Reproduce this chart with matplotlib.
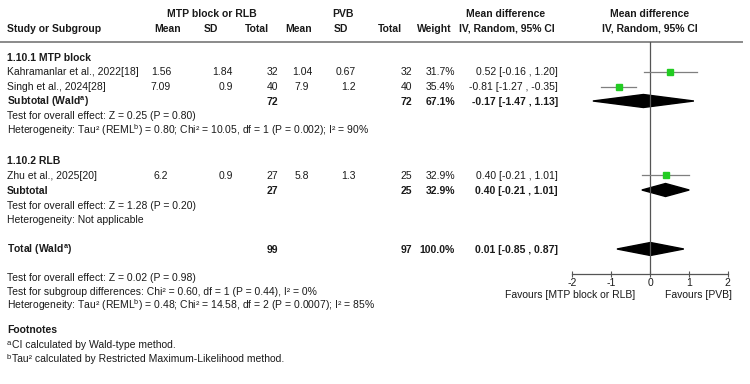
import matplotlib
matplotlib.use("Agg")
import matplotlib.pyplot as plt
from matplotlib.patches import Polygon

plt.rcParams['font.family'] = ['Liberation Sans', 'DejaVu Sans']
plt.rcParams['mathtext.fontset'] = 'custom'
plt.rcParams['mathtext.rm'] = 'Liberation Sans'
plt.rcParams['mathtext.it'] = 'Liberation Sans:italic'
plt.rcParams['mathtext.bf'] = 'Liberation Sans:bold'

SUP_A = r'$^{\mathregular{a}}$'
SUP_B = r'$^{\mathregular{b}}$'

# studies
studies = ['Kahramanlar et al., 2022[18]', 'Singh et al., 2024[28]', 'Zhu et al., 2025[20]']
mean_exp = [1.56, 7.09, 6.2]
sd_exp = [1.84, 0.9, 0.9]
n_exp = [32, 40, 27]
mean_ctl = [1.04, 7.9, 5.8]
sd_ctl = [0.67, 1.2, 1.3]
n_ctl = [32, 40, 25]
weights = [31.7, 35.4, 32.9]
md = [0.52, -0.81, 0.40]
md_lo = [-0.16, -1.27, -0.21]
md_hi = [1.20, -0.35, 1.01]

# subtotals and total
pooled_labels = ['Subtotal (Wald' + SUP_A + ')', 'Subtotal', 'Total (Wald' + SUP_A + ')']
pooled_n_exp = [72, 27, 99]
pooled_n_ctl = [72, 25, 97]
pooled_weight = [67.1, 32.9, 100.0]
pooled_md = [-0.17, 0.40, 0.01]
pooled_lo = [-1.47, -0.21, -0.85]
pooled_hi = [1.13, 1.01, 0.87]

xticks = [-2, -1, 0, 1, 2]

# layout (pixel rows, centre of each row)
study_y = [71.5, 86.5, 175]
pooled_y = [101, 190, 249]
FS = 7.5
TXT = '#1a1a1a'
BASE = 3.7  # centre -> baseline offset in px

fig = plt.figure(figsize=(7.5, 3.84), dpi=100)
t = fig.add_axes([0, 0, 1, 1])
t.set_xlim(0, 750)
t.set_ylim(384, 0)
t.axis('off')


def txt(x, y, s, ha='left', bold=False, size=FS):
    t.text(x, y + BASE, s, ha=ha, va='baseline', fontsize=size, color=TXT,
           fontweight='bold' if bold else 'normal')


# header
txt(212, 13, 'MTP block or RLB', 'center', True)
txt(343, 13, 'PVB', 'center', True)
txt(506, 13, 'Mean difference', 'center', True)
txt(650, 13, 'Mean difference', 'center', True)
txt(7, 28, 'Study or Subgroup', bold=True)
txt(168, 28, 'Mean', 'center', True)
txt(211, 28, 'SD', 'center', True)
txt(257, 28, 'Total', 'center', True)
txt(299, 28, 'Mean', 'center', True)
txt(341, 28, 'SD', 'center', True)
txt(390, 28, 'Total', 'center', True)
txt(434, 28, 'Weight', 'center', True)
txt(507, 28, 'IV, Random, 95% CI', 'center', True)
txt(650, 28, 'IV, Random, 95% CI', 'center', True)
t.plot([0, 742], [41.5, 41.5], color='#8a8a8a', lw=1.4)

txt(7, 57, '1.10.1 MTP block', bold=True)
txt(7, 160, '1.10.2 RLB', bold=True)


def ci_text(m, lo, hi):
    return f'{m:.2f} [{lo:.2f} , {hi:.2f}]'


for i, y in enumerate(study_y):
    txt(7, y, studies[i])
    txt(161, y, str(mean_exp[i]), 'center')
    txt(233, y, str(sd_exp[i]), 'right')
    txt(278, y, str(n_exp[i]), 'right')
    txt(302, y, str(mean_ctl[i]), 'center')
    txt(356, y, str(sd_ctl[i]), 'right')
    txt(412, y, str(n_ctl[i]), 'right')
    txt(455, y, f'{weights[i]:.1f}%', 'right')
    txt(558, y, ci_text(md[i], md_lo[i], md_hi[i]), 'right')

for i, y in enumerate(pooled_y):
    txt(7, y, pooled_labels[i], bold=True)
    txt(278, y, str(pooled_n_exp[i]), 'right', True)
    txt(412, y, str(pooled_n_ctl[i]), 'right', True)
    txt(455, y, f'{pooled_weight[i]:.1f}%', 'right', True)
    txt(558, y, ci_text(pooled_md[i], pooled_lo[i], pooled_hi[i]), 'right', True)

txt(7, 115, 'Test for overall effect: Z = 0.25 (P = 0.80)')
txt(7, 130, 'Heterogeneity: Tau\u00b2 (REML' + SUP_B + ') = 0.80; Chi\u00b2 = 10.05, df = 1 (P = 0.002); I\u00b2 = 90%')
txt(7, 205, 'Test for overall effect: Z = 1.28 (P = 0.20)')
txt(7, 219, 'Heterogeneity: Not applicable')
txt(7, 277, 'Test for overall effect: Z = 0.02 (P = 0.98)')
txt(7, 291, 'Test for subgroup differences: Chi\u00b2 = 0.60, df = 1 (P = 0.44), I\u00b2 = 0%')
txt(7, 305.5, 'Heterogeneity: Tau\u00b2 (REML' + SUP_B + ') = 0.48; Chi\u00b2 = 14.58, df = 2 (P = 0.0007); I\u00b2 = 85%')
txt(7, 329, 'Footnotes', bold=True)
# footnote markers as small raised letters
txt(7, 341, 'a', size=5.5)
txt(12.5, 344, 'CI calculated by Wald-type method.')
txt(7, 355, 'b', size=5.5)
txt(12.5, 358, 'Tau\u00b2 calculated by Restricted Maximum-Likelihood method.')

txt(635, 294, 'Favours [MTP block or RLB]', 'right')
txt(665, 294, 'Favours [PVB]', 'left')

# forest panel: x in mean-difference units, y in pixel rows
x0, x1 = 572.3, 727.7
top, bot = 41.5, 273.5
f = fig.add_axes([x0 / 750, (384 - bot) / 384, (x1 - x0) / 750, (bot - top) / 384])
f.set_xlim(-2, 2)
f.set_ylim(bot, top)
f.patch.set_visible(False)
for s in ['top', 'right', 'left']:
    f.spines[s].set_visible(False)
f.spines['bottom'].set_color('#555555')
f.spines['bottom'].set_linewidth(0.9)
f.set_yticks([])
f.set_xticks(xticks)
f.set_xticklabels([str(v) for v in xticks])
f.tick_params(axis='x', direction='inout', length=5, width=0.8, color='#555555',
              labelsize=FS, labelcolor=TXT, pad=1)
f.axvline(0, color='#555555', lw=0.9)

for i, y in enumerate(study_y):
    f.plot([md_lo[i], md_hi[i]], [y, y], color='#7f7f7f', lw=0.9)
    f.plot(md[i], y, marker='s', ms=4.0, color='#22cc22', mec='#22cc22')

half_h = 6.5
for i, y in enumerate(pooled_y):
    d = Polygon([(pooled_lo[i], y), (pooled_md[i], y - half_h),
                 (pooled_hi[i], y), (pooled_md[i], y + half_h)],
                closed=True, color='black')
    f.add_patch(d)

fig.savefig('out.png', dpi=100)
